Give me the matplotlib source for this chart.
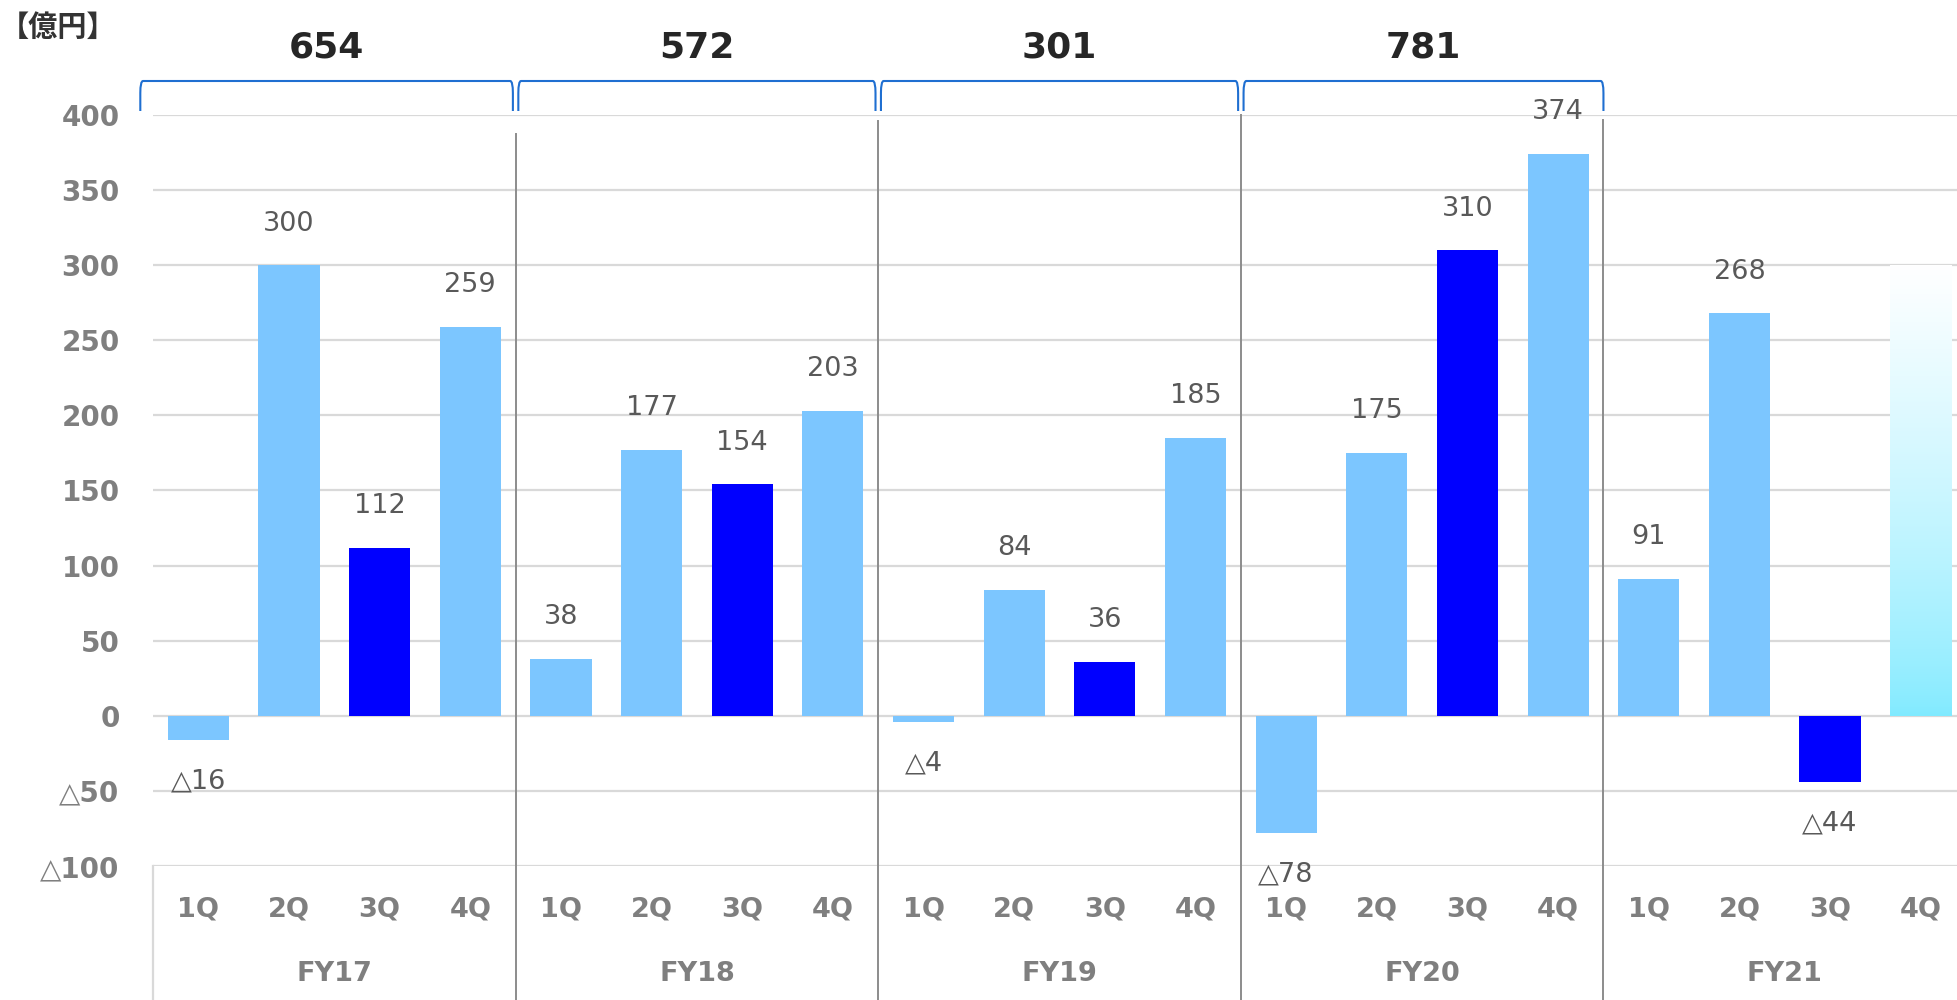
import matplotlib
matplotlib.use("Agg")
import matplotlib.pyplot as plt
import matplotlib.transforms as mtransforms
from matplotlib.path import Path
from matplotlib.patches import PathPatch
import numpy as np

# ---- data ----
fiscal_years = ["FY17", "FY18", "FY19", "FY20", "FY21"]
quarters = ["1Q", "2Q", "3Q", "4Q"]
fy17 = [-16, 300, 112, 259]
fy18 = [38, 177, 154, 203]
fy19 = [-4, 84, 36, 185]
fy20 = [-78, 175, 310, 374]
fy21 = [91, 268, -44]
fy21_4q_outlook = 300          # faded (gradient) bar, no label
annual_totals = [654, 572, 301, 781]
y_ticks = [-100, -50, 0, 50, 100, 150, 200, 250, 300, 350, 400]
unit_label = "【億円】"

LIGHT = "#7CC6FF"
DARK = "#0000FF"
GRAD_BOTTOM = "#80EAFF"

values = fy17 + fy18 + fy19 + fy20 + fy21
colors = [DARK if (i % 4) == 2 else LIGHT for i in range(len(values))]
xpos = np.arange(len(values))

fig = plt.figure(figsize=(19.57, 10), dpi=100)
ax = fig.add_axes([153 / 1957, 0.134, 1 - 153 / 1957, 0.751])
ax.set_xlim(-0.5, 19.4)
ax.set_ylim(-100, 400)

bw = 0.675
ax.bar(xpos, values, width=bw, color=colors, zorder=3)

# gradient bar for FY21 4Q
gbar = ax.bar([19], [fy21_4q_outlook], width=bw, color="none", zorder=3)[0]
c0 = np.array(matplotlib.colors.to_rgb(GRAD_BOTTOM))
c1 = np.array([1.0, 1.0, 1.0])
t = np.linspace(0, 1, 256)[:, None] ** 0.75
grad = (c0[None, :] * (1 - t) + c1[None, :] * t)[:, None, :]
im = ax.imshow(grad, origin="lower", aspect="auto",
               extent=[19 - bw / 2, 19 + bw / 2, 0, fy21_4q_outlook], zorder=3)
im.set_clip_path(gbar)
ax.set_xlim(-0.5, 19.4)
ax.set_ylim(-100, 400)

# data labels
for x, v in zip(xpos, values):
    txt = str(v) if v >= 0 else "△" + str(-v)
    off = 30 if v >= 0 else -30
    ax.annotate(txt, (x, v), xytext=(0, off), textcoords="offset points",
                ha="center", va="center", fontsize=19.5, color="#595959", zorder=5)

# axes styling
for s in ax.spines.values():
    s.set_visible(False)
ax.set_yticks(y_ticks)
ax.set_yticklabels([str(v) if v >= 0 else "△" + str(-v) for v in y_ticks],
                   fontsize=20, fontweight="bold", color="#7f7f7f")
ax.tick_params(axis="y", length=0, pad=24)
ax.set_xticks([])
ax.yaxis.grid(True, color="#d9d9d9", lw=1.6, zorder=0)
ax.set_axisbelow(True)

blend = mtransforms.blended_transform_factory(ax.transData, fig.transFigure)

# group separators
sep_x = [3.5, 7.5, 11.5, 15.5]
sep_top = [1 - 134 / 1000, 1 - 121 / 1000, 1 - 115 / 1000, 1 - 120 / 1000]
for sx, st in zip(sep_x, sep_top):
    ax.plot([sx, sx], [0, st], transform=blend, color="#8c8c8c", lw=1.4,
            clip_on=False, zorder=4)
# category box left edge
ax.plot([-0.5, -0.5], [0, 0.134], transform=blend, color="#d9d9d9", lw=1.6,
        clip_on=False)

# category labels
for i, x in enumerate(xpos.tolist() + [19]):
    ax.text(x, 0.091, quarters[i % 4], transform=blend, ha="center", va="center",
            fontsize=19.5, fontweight="bold", color="#7f7f7f")
for g, name in enumerate(fiscal_years):
    ax.text(g * 4 + 1.5, 0.026, name, transform=blend, ha="center", va="center",
            fontsize=19.5, fontweight="bold", color="#7f7f7f")

# brackets with totals
spans = [(-0.64, 3.47), (3.53, 7.47), (7.53, 11.47), (11.53, 15.5)]
y_top, y_bot = 0.919, 0.889
r = 0.012
dx = 0.03
for (a, b), tot in zip(spans, annual_totals):
    verts = [(a, y_bot), (a, y_top - r), (a, y_top), (a + dx, y_top),
             (b - dx, y_top), (b, y_top), (b, y_top - r), (b, y_bot)]
    codes = [Path.MOVETO, Path.LINETO, Path.CURVE3, Path.CURVE3,
             Path.LINETO, Path.CURVE3, Path.CURVE3, Path.LINETO]
    patch = PathPatch(Path(verts, codes), transform=blend, fill=False,
                      edgecolor="#1F6FD1", lw=1.5, clip_on=False)
    ax.add_artist(patch)
    ax.text((a + b) / 2, 0.953, str(tot), transform=blend, ha="center",
            va="center", fontsize=26, fontweight="bold", color="#262626")

fig.text(0.0, 0.973, unit_label, ha="left", va="center", fontsize=21,
         fontweight="bold", color="#333333",
         family=["Noto Sans CJK JP", "DejaVu Sans"])

fig.savefig("out.png", dpi=100)
